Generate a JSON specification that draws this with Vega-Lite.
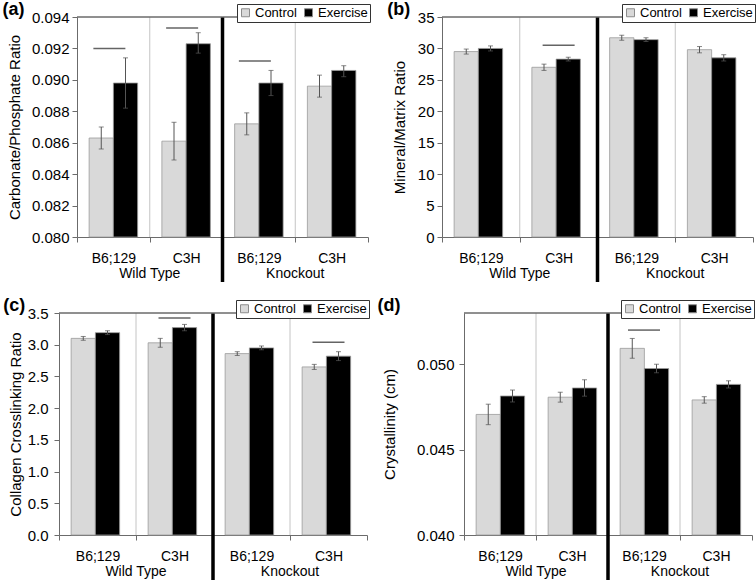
{
  "$schema": "https://vega.github.io/schema/vega-lite/v6.json",
  "background": "white",
  "padding": {"left": 2, "top": 0, "right": 0, "bottom": 0},
  "config": {
    "font": "Liberation Sans",
    "view": {"stroke": null},
    "axis": {"labelFont": "Liberation Sans", "titleFont": "Liberation Sans", "labelColor": "#000", "titleColor": "#000", "titleFontWeight": "normal", "labelFontSize": 15, "titleFontSize": 15, "domainColor": "#6b6b6b", "tickColor": "#6b6b6b", "grid": false, "labelOverlap": false},
    "axisX": {"labelFontSize": 14},
    "axisY": {"tickSize": 5, "labelPadding": 3},
    "legend": {"labelFont": "Liberation Sans", "labelFontSize": 13, "labelColor": "#000", "symbolType": "square", "symbolSize": 64, "symbolStrokeColor": "#8c8c8c", "symbolStrokeWidth": 1, "strokeColor": "#333333", "fillColor": "white", "padding": 2, "columnPadding": 5, "labelOffset": 3},
    "title": {"anchor": "start", "frame": "bounds", "font": "Liberation Sans", "fontSize": 18, "fontWeight": "bold", "baseline": "middle", "offset": -15, "dx": -5, "color": "#000"}
  },
  "datasets": {
    "geno": [{"genotype": "Wild Type"}, {"genotype": "Knockout"}],
    "a": [
      {"group": "WT B6;129", "condition": "Control", "value": 0.0863, "lo": 0.0856, "hi": 0.0870},
      {"group": "WT B6;129", "condition": "Exercise", "value": 0.0898, "lo": 0.0882, "hi": 0.0914},
      {"group": "WT C3H", "condition": "Control", "value": 0.0861, "lo": 0.0849, "hi": 0.0873},
      {"group": "WT C3H", "condition": "Exercise", "value": 0.0923, "lo": 0.0917, "hi": 0.0930},
      {"group": "KO B6;129", "condition": "Control", "value": 0.0872, "lo": 0.0865, "hi": 0.0879},
      {"group": "KO B6;129", "condition": "Exercise", "value": 0.0898, "lo": 0.0890, "hi": 0.0906},
      {"group": "KO C3H", "condition": "Control", "value": 0.0896, "lo": 0.0889, "hi": 0.0903},
      {"group": "KO C3H", "condition": "Exercise", "value": 0.0906, "lo": 0.0902, "hi": 0.0909}
    ],
    "a_sig": [
      {"group": "WT B6;129", "value": 0.0920},
      {"group": "WT C3H", "value": 0.0933},
      {"group": "KO B6;129", "value": 0.0912}
    ],
    "b": [
      {"group": "WT B6;129", "condition": "Control", "value": 29.5, "lo": 29.1, "hi": 29.9},
      {"group": "WT B6;129", "condition": "Exercise", "value": 30.0, "lo": 29.6, "hi": 30.4},
      {"group": "WT C3H", "condition": "Control", "value": 27.0, "lo": 26.5, "hi": 27.5},
      {"group": "WT C3H", "condition": "Exercise", "value": 28.3, "lo": 28.0, "hi": 28.6},
      {"group": "KO B6;129", "condition": "Control", "value": 31.7, "lo": 31.3, "hi": 32.1},
      {"group": "KO B6;129", "condition": "Exercise", "value": 31.4, "lo": 31.1, "hi": 31.7},
      {"group": "KO C3H", "condition": "Control", "value": 29.8, "lo": 29.3, "hi": 30.3},
      {"group": "KO C3H", "condition": "Exercise", "value": 28.5, "lo": 28.0, "hi": 29.0}
    ],
    "b_sig": [
      {"group": "WT C3H", "value": 30.5}
    ],
    "c": [
      {"group": "WT B6;129", "condition": "Control", "value": 3.10, "lo": 3.07, "hi": 3.13},
      {"group": "WT B6;129", "condition": "Exercise", "value": 3.19, "lo": 3.16, "hi": 3.22},
      {"group": "WT C3H", "condition": "Control", "value": 3.03, "lo": 2.96, "hi": 3.10},
      {"group": "WT C3H", "condition": "Exercise", "value": 3.27, "lo": 3.22, "hi": 3.32},
      {"group": "KO B6;129", "condition": "Control", "value": 2.86, "lo": 2.83, "hi": 2.89},
      {"group": "KO B6;129", "condition": "Exercise", "value": 2.95, "lo": 2.92, "hi": 2.98},
      {"group": "KO C3H", "condition": "Control", "value": 2.65, "lo": 2.61, "hi": 2.69},
      {"group": "KO C3H", "condition": "Exercise", "value": 2.82, "lo": 2.75, "hi": 2.89}
    ],
    "c_sig": [
      {"group": "WT C3H", "value": 3.42},
      {"group": "KO C3H", "value": 3.04}
    ],
    "d": [
      {"group": "WT B6;129", "condition": "Control", "value": 0.04706, "lo": 0.04646, "hi": 0.04766},
      {"group": "WT B6;129", "condition": "Exercise", "value": 0.04814, "lo": 0.04779, "hi": 0.04849},
      {"group": "WT C3H", "condition": "Control", "value": 0.04807, "lo": 0.04778, "hi": 0.04836},
      {"group": "WT C3H", "condition": "Exercise", "value": 0.04861, "lo": 0.04813, "hi": 0.04909},
      {"group": "KO B6;129", "condition": "Control", "value": 0.05093, "lo": 0.05035, "hi": 0.05151},
      {"group": "KO B6;129", "condition": "Exercise", "value": 0.04975, "lo": 0.04950, "hi": 0.05000},
      {"group": "KO C3H", "condition": "Control", "value": 0.04791, "lo": 0.04772, "hi": 0.04810},
      {"group": "KO C3H", "condition": "Exercise", "value": 0.04882, "lo": 0.04861, "hi": 0.04903}
    ],
    "d_sig": [
      {"group": "KO B6;129", "value": 0.0520}
    ]
  },
  "resolve": {"scale": {"color": "independent"}, "legend": {"color": "independent"}},
  "spacing": 12,
  "align": "none",
  "vconcat": [
    {
      "resolve": {"scale": {"color": "independent"}, "legend": {"color": "independent"}},
      "spacing": 16,
      "align": "each",
      "hconcat": [
        {
          "title": {"text": "(a)"},
          "width": 309, "height": 220,
          "resolve": {"scale": {"x": "independent"}, "axis": {"x": "independent"}},
          "layer": [
            {
              "layer": [
                {"data": {"name": "a"}, "mark": {"type": "bar", "stroke": "#9a9a9a", "strokeWidth": 0.8},
                 "encoding": {
                   "x": {"field": "group", "type": "nominal", "title": null, "scale": {"domain": ["WT B6;129", "WT C3H", "KO B6;129", "KO C3H"], "range": [18, 309], "paddingInner": 0, "paddingOuter": 0}, "axis": {"labelExpr": "split(datum.value, ' ')[1]", "labelAngle": 0, "tickBand": "extent", "tickSize": 5, "labelPadding": 9}},
                   "xOffset": {"field": "condition", "type": "nominal", "scale": {"domain": ["Control", "Exercise"], "paddingInner": 0, "paddingOuter": 0.5}},
                   "y": {"field": "value", "type": "quantitative", "scale": {"domain": [0.08, 0.094], "nice": false, "zero": false}, "axis": {"title": "Carbonate/Phosphate Ratio", "values": [0.08, 0.082, 0.084, 0.086, 0.088, 0.09, 0.092, 0.094], "tickCount": 12, "format": ".3f", "titlePadding": 9, "offset": -18}},
                   "y2": {"datum": 0.08},
                   "color": {"field": "condition", "type": "nominal", "scale": {"domain": ["Control", "Exercise"], "range": ["#d9d9d9", "#000000"]}, "legend": {"title": null, "orient": "none", "direction": "horizontal", "legendX": 178, "legendY": -13}}
                 }},
                {"data": {"name": "a"}, "mark": {"type": "rule", "color": "#555555", "strokeWidth": 1},
                 "encoding": {"x": {"field": "group", "type": "nominal"}, "xOffset": {"field": "condition", "type": "nominal"}, "y": {"field": "lo", "type": "quantitative"}, "y2": {"field": "hi"}}},
                {"data": {"name": "a"}, "mark": {"type": "tick", "color": "#555555", "size": 5, "thickness": 1},
                 "encoding": {"x": {"field": "group", "type": "nominal"}, "xOffset": {"field": "condition", "type": "nominal"}, "y": {"field": "lo", "type": "quantitative"}}},
                {"data": {"name": "a"}, "mark": {"type": "tick", "color": "#555555", "size": 5, "thickness": 1},
                 "encoding": {"x": {"field": "group", "type": "nominal"}, "xOffset": {"field": "condition", "type": "nominal"}, "y": {"field": "hi", "type": "quantitative"}}},
                {"data": {"name": "a_sig"}, "mark": {"type": "tick", "color": "#222222", "size": 32, "thickness": 1.5, "xOffset": -4},
                 "encoding": {"x": {"field": "group", "type": "nominal"}, "y": {"field": "value", "type": "quantitative"}}}
              ]
            },
            {
              "data": {"name": "geno"},
              "layer": [
                {"mark": {"type": "rule", "color": "#c4c4c4", "strokeWidth": 1},
                 "encoding": {"x": {"field": "genotype", "type": "nominal", "title": null, "scale": {"domain": ["Wild Type", "Knockout"], "range": [18, 309], "paddingInner": 0, "paddingOuter": 0}, "axis": {"orient": "bottom", "domain": false, "ticks": false, "tickSize": 0, "labelAngle": 0, "labelPadding": 29}}}},
                {"mark": {"type": "rule", "color": "#000000", "strokeWidth": 3.5},
                 "transform": [{"filter": "datum.genotype === 'Knockout'"}],
                 "encoding": {"x": {"field": "genotype", "type": "nominal", "bandPosition": 0}, "y": {"datum": 0.094}, "y2": {"datum": 0.07714}}},
                {"mark": {"type": "bar", "fillOpacity": 0, "stroke": "#6b6b6b", "strokeWidth": 1},
                 "encoding": {"x": {"field": "genotype", "type": "nominal"}, "y": {"datum": 0.094}, "y2": {"datum": 0.094}}}
              ]
            }
          ]
        },
        {
          "title": {"text": "(b)"},
          "width": 311, "height": 220,
          "resolve": {"scale": {"x": "independent"}, "axis": {"x": "independent"}},
          "layer": [
            {
              "layer": [
                {"data": {"name": "b"}, "mark": {"type": "bar", "stroke": "#9a9a9a", "strokeWidth": 0.8},
                 "encoding": {
                   "x": {"field": "group", "type": "nominal", "title": null, "scale": {"domain": ["WT B6;129", "WT C3H", "KO B6;129", "KO C3H"], "paddingInner": 0, "paddingOuter": 0}, "axis": {"labelExpr": "split(datum.value, ' ')[1]", "labelAngle": 0, "tickBand": "extent", "tickSize": 5, "labelPadding": 9}},
                   "xOffset": {"field": "condition", "type": "nominal", "scale": {"domain": ["Control", "Exercise"], "paddingInner": 0, "paddingOuter": 0.5}},
                   "y": {"field": "value", "type": "quantitative", "scale": {"domain": [0, 35], "nice": false}, "axis": {"title": "Mineral/Matrix Ratio", "values": [0, 5, 10, 15, 20, 25, 30, 35], "tickCount": 12, "format": "d", "titlePadding": 10}},
                   "y2": {"datum": 0},
                   "color": {"field": "condition", "type": "nominal", "scale": {"domain": ["Control", "Exercise"], "range": ["#d9d9d9", "#000000"]}, "legend": {"title": null, "orient": "none", "direction": "horizontal", "legendX": 180, "legendY": -13}}
                 }},
                {"data": {"name": "b"}, "mark": {"type": "rule", "color": "#555555", "strokeWidth": 1},
                 "encoding": {"x": {"field": "group", "type": "nominal"}, "xOffset": {"field": "condition", "type": "nominal"}, "y": {"field": "lo", "type": "quantitative"}, "y2": {"field": "hi"}}},
                {"data": {"name": "b"}, "mark": {"type": "tick", "color": "#555555", "size": 5, "thickness": 1},
                 "encoding": {"x": {"field": "group", "type": "nominal"}, "xOffset": {"field": "condition", "type": "nominal"}, "y": {"field": "lo", "type": "quantitative"}}},
                {"data": {"name": "b"}, "mark": {"type": "tick", "color": "#555555", "size": 5, "thickness": 1},
                 "encoding": {"x": {"field": "group", "type": "nominal"}, "xOffset": {"field": "condition", "type": "nominal"}, "y": {"field": "hi", "type": "quantitative"}}},
                {"data": {"name": "b_sig"}, "mark": {"type": "tick", "color": "#222222", "size": 32, "thickness": 1.5},
                 "encoding": {"x": {"field": "group", "type": "nominal"}, "y": {"field": "value", "type": "quantitative"}}}
              ]
            },
            {
              "data": {"name": "geno"},
              "layer": [
                {"mark": {"type": "rule", "color": "#c4c4c4", "strokeWidth": 1},
                 "encoding": {"x": {"field": "genotype", "type": "nominal", "title": null, "scale": {"domain": ["Wild Type", "Knockout"], "paddingInner": 0, "paddingOuter": 0}, "axis": {"orient": "bottom", "domain": false, "ticks": false, "tickSize": 0, "labelAngle": 0, "labelPadding": 29}}}},
                {"mark": {"type": "rule", "color": "#000000", "strokeWidth": 3.5},
                 "transform": [{"filter": "datum.genotype === 'Knockout'"}],
                 "encoding": {"x": {"field": "genotype", "type": "nominal", "bandPosition": 0}, "y": {"datum": 35}, "y2": {"datum": -7.16}}},
                {"mark": {"type": "rule", "color": "#6b6b6b", "strokeWidth": 1}, "encoding": {"y": {"datum": 35}}}
              ]
            }
          ]
        }
      ]
    },
    {
      "resolve": {"scale": {"color": "independent"}, "legend": {"color": "independent"}},
      "spacing": 7,
      "align": "each",
      "hconcat": [
        {
          "title": {"text": "(c)"},
          "width": 308, "height": 222,
          "resolve": {"scale": {"x": "independent"}, "axis": {"x": "independent"}},
          "layer": [
            {
              "layer": [
                {"data": {"name": "c"}, "mark": {"type": "bar", "stroke": "#9a9a9a", "strokeWidth": 0.8},
                 "encoding": {
                   "x": {"field": "group", "type": "nominal", "title": null, "scale": {"domain": ["WT B6;129", "WT C3H", "KO B6;129", "KO C3H"], "paddingInner": 0, "paddingOuter": 0}, "axis": {"labelExpr": "split(datum.value, ' ')[1]", "labelAngle": 0, "tickBand": "extent", "tickSize": 5, "labelPadding": 9}},
                   "xOffset": {"field": "condition", "type": "nominal", "scale": {"domain": ["Control", "Exercise"], "paddingInner": 0, "paddingOuter": 0.5}},
                   "y": {"field": "value", "type": "quantitative", "scale": {"domain": [0, 3.5], "nice": false}, "axis": {"title": "Collagen Crosslinking Ratio", "values": [0, 0.5, 1, 1.5, 2, 2.5, 3, 3.5], "tickCount": 12, "format": ".1f", "labelPadding": 6, "titlePadding": 4}},
                   "y2": {"datum": 0},
                   "color": {"field": "condition", "type": "nominal", "scale": {"domain": ["Control", "Exercise"], "range": ["#d9d9d9", "#000000"]}, "legend": {"title": null, "orient": "none", "direction": "horizontal", "legendX": 177, "legendY": -13}}
                 }},
                {"data": {"name": "c"}, "mark": {"type": "rule", "color": "#555555", "strokeWidth": 1},
                 "encoding": {"x": {"field": "group", "type": "nominal"}, "xOffset": {"field": "condition", "type": "nominal"}, "y": {"field": "lo", "type": "quantitative"}, "y2": {"field": "hi"}}},
                {"data": {"name": "c"}, "mark": {"type": "tick", "color": "#555555", "size": 5, "thickness": 1},
                 "encoding": {"x": {"field": "group", "type": "nominal"}, "xOffset": {"field": "condition", "type": "nominal"}, "y": {"field": "lo", "type": "quantitative"}}},
                {"data": {"name": "c"}, "mark": {"type": "tick", "color": "#555555", "size": 5, "thickness": 1},
                 "encoding": {"x": {"field": "group", "type": "nominal"}, "xOffset": {"field": "condition", "type": "nominal"}, "y": {"field": "hi", "type": "quantitative"}}},
                {"data": {"name": "c_sig"}, "mark": {"type": "tick", "color": "#222222", "size": 32, "thickness": 1.5},
                 "encoding": {"x": {"field": "group", "type": "nominal"}, "y": {"field": "value", "type": "quantitative"}}}
              ]
            },
            {
              "data": {"name": "geno"},
              "layer": [
                {"mark": {"type": "rule", "color": "#c4c4c4", "strokeWidth": 1},
                 "encoding": {"x": {"field": "genotype", "type": "nominal", "title": null, "scale": {"domain": ["Wild Type", "Knockout"], "paddingInner": 0, "paddingOuter": 0}, "axis": {"orient": "bottom", "domain": false, "ticks": false, "tickSize": 0, "labelAngle": 0, "labelPadding": 29}}}},
                {"mark": {"type": "rule", "color": "#000000", "strokeWidth": 3.5},
                 "transform": [{"filter": "datum.genotype === 'Knockout'"}],
                 "encoding": {"x": {"field": "genotype", "type": "nominal", "bandPosition": 0}, "y": {"datum": 3.5}, "y2": {"datum": -0.71}}},
                {"mark": {"type": "rule", "color": "#6b6b6b", "strokeWidth": 1}, "encoding": {"y": {"datum": 3.5}}}
              ]
            }
          ]
        },
        {
          "title": {"text": "(d)"},
          "width": 288, "height": 222,
          "resolve": {"scale": {"x": "independent"}, "axis": {"x": "independent"}},
          "layer": [
            {
              "layer": [
                {"data": {"name": "d"}, "mark": {"type": "bar", "stroke": "#9a9a9a", "strokeWidth": 0.8},
                 "encoding": {
                   "x": {"field": "group", "type": "nominal", "title": null, "scale": {"domain": ["WT B6;129", "WT C3H", "KO B6;129", "KO C3H"], "paddingInner": 0, "paddingOuter": 0}, "axis": {"labelExpr": "split(datum.value, ' ')[1]", "labelAngle": 0, "tickBand": "extent", "tickSize": 5, "labelPadding": 9}},
                   "xOffset": {"field": "condition", "type": "nominal", "scale": {"domain": ["Control", "Exercise"], "paddingInner": 0, "paddingOuter": 0.5}},
                   "y": {"field": "value", "type": "quantitative", "scale": {"domain": [0.04, 0.053], "nice": false, "zero": false}, "axis": {"title": "Crystallinity (cm)", "values": [0.04, 0.045, 0.05], "tickCount": 12, "format": ".3f", "labelPadding": 5, "titlePadding": 19}},
                   "y2": {"datum": 0.04},
                   "color": {"field": "condition", "type": "nominal", "scale": {"domain": ["Control", "Exercise"], "range": ["#d9d9d9", "#000000"]}, "legend": {"title": null, "orient": "none", "direction": "horizontal", "legendX": 157, "legendY": -13}}
                 }},
                {"data": {"name": "d"}, "mark": {"type": "rule", "color": "#555555", "strokeWidth": 1},
                 "encoding": {"x": {"field": "group", "type": "nominal"}, "xOffset": {"field": "condition", "type": "nominal"}, "y": {"field": "lo", "type": "quantitative"}, "y2": {"field": "hi"}}},
                {"data": {"name": "d"}, "mark": {"type": "tick", "color": "#555555", "size": 5, "thickness": 1},
                 "encoding": {"x": {"field": "group", "type": "nominal"}, "xOffset": {"field": "condition", "type": "nominal"}, "y": {"field": "lo", "type": "quantitative"}}},
                {"data": {"name": "d"}, "mark": {"type": "tick", "color": "#555555", "size": 5, "thickness": 1},
                 "encoding": {"x": {"field": "group", "type": "nominal"}, "xOffset": {"field": "condition", "type": "nominal"}, "y": {"field": "hi", "type": "quantitative"}}},
                {"data": {"name": "d_sig"}, "mark": {"type": "tick", "color": "#222222", "size": 32, "thickness": 1.5},
                 "encoding": {"x": {"field": "group", "type": "nominal"}, "y": {"field": "value", "type": "quantitative"}}}
              ]
            },
            {
              "data": {"name": "geno"},
              "layer": [
                {"mark": {"type": "rule", "color": "#c4c4c4", "strokeWidth": 1},
                 "encoding": {"x": {"field": "genotype", "type": "nominal", "title": null, "scale": {"domain": ["Wild Type", "Knockout"], "paddingInner": 0, "paddingOuter": 0}, "axis": {"orient": "bottom", "domain": false, "ticks": false, "tickSize": 0, "labelAngle": 0, "labelPadding": 29}}}},
                {"mark": {"type": "rule", "color": "#000000", "strokeWidth": 3.5},
                 "transform": [{"filter": "datum.genotype === 'Knockout'"}],
                 "encoding": {"x": {"field": "genotype", "type": "nominal", "bandPosition": 0}, "y": {"datum": 0.053}, "y2": {"datum": 0.03736}}},
                {"mark": {"type": "rule", "color": "#6b6b6b", "strokeWidth": 1}, "encoding": {"y": {"datum": 0.053}}}
              ]
            }
          ]
        }
      ]
    }
  ]
}
